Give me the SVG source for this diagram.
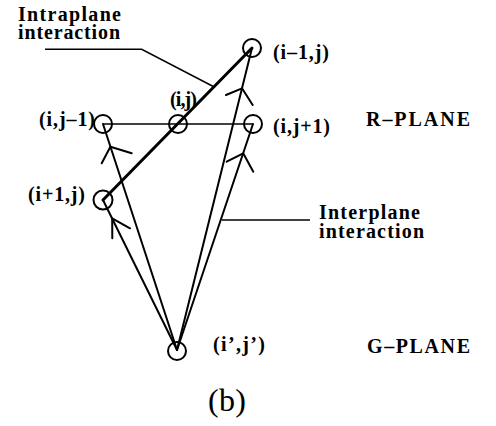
<svg xmlns="http://www.w3.org/2000/svg" width="496" height="426" viewBox="0 0 496 426">
<style>
.lbl{font-family:"Liberation Serif","Times New Roman",serif;font-weight:bold;font-size:20px;fill:#000}
.cap{font-family:"Liberation Serif","Times New Roman",serif;font-size:32px;fill:#000}
.node{fill:none;stroke:#000;stroke-width:2}
.arr{fill:none;stroke:#000;stroke-width:2;stroke-linecap:round;stroke-linejoin:round}
.thick{fill:none;stroke:#000;stroke-width:3;stroke-linecap:round}
.thin{fill:none;stroke:#000;stroke-width:1.5}
</style>
<rect width="496" height="426" fill="#fff"/>
<g id="connectors">
  <line class="thin" x1="103" y1="124" x2="253" y2="124"/>
  <line class="thick" x1="103" y1="200" x2="252" y2="48"/>
  <line class="arr" x1="177" y1="350" x2="103" y2="124"/>
  <polyline class="arr" points="101.7,163.3 110.4,146.7 131.7,153.3"/>
  <line class="arr" x1="177" y1="350" x2="103" y2="200"/>
  <polyline class="arr" points="112.3,238.3 112.2,218.3 130,228.3"/>
  <line class="arr" x1="177" y1="350" x2="253" y2="124"/>
  <polyline class="arr" points="226.7,161.7 243.2,153.3 253.3,171.7"/>
  <line class="arr" x1="177" y1="350" x2="252" y2="48"/>
  <polyline class="arr" points="226,95 242,88.3 252.7,105"/>
  <polyline class="thin" points="45,49.3 141.7,49.3 213.3,86.5"/>
  <line class="thin" x1="222" y1="220" x2="310" y2="220"/>
</g>
<g id="n_im1j"><circle class="node" cx="252" cy="48" r="9"/><text class="lbl" x="273" y="59.3" textLength="56">(i–1,j)</text></g>
<g id="n_ij"><circle class="node" cx="178" cy="124" r="9"/><text class="lbl" x="170" y="106" textLength="27">(i,j)</text></g>
<g id="n_ijm1"><circle class="node" cx="103" cy="124" r="9"/><text class="lbl" x="39" y="126" textLength="56">(i,j–1)</text></g>
<g id="n_ijp1"><circle class="node" cx="253" cy="124" r="9"/><text class="lbl" x="273" y="133" textLength="57">(i,j+1)</text></g>
<g id="n_ip1j"><circle class="node" cx="103" cy="200" r="9.5"/><text class="lbl" x="28" y="201" textLength="57">(i+1,j)</text></g>
<g id="n_g"><circle class="node" cx="177" cy="351" r="9"/><text class="lbl" x="213" y="351" textLength="52">(i’,j’)</text></g>
<g id="labels">
  <text class="lbl" x="18" y="21" textLength="103">Intraplane</text>
  <text class="lbl" x="18" y="38.5" textLength="102">interaction</text>
  <text class="lbl" x="319" y="219.3" textLength="101">Interplane</text>
  <text class="lbl" x="319" y="238.3" textLength="105">interaction</text>
  <text class="lbl" x="366" y="126" textLength="104">R–PLANE</text>
  <text class="lbl" x="367" y="352.7" textLength="103">G–PLANE</text>
  <text class="cap" x="208" y="411" textLength="38">(b)</text>
</g>
</svg>
